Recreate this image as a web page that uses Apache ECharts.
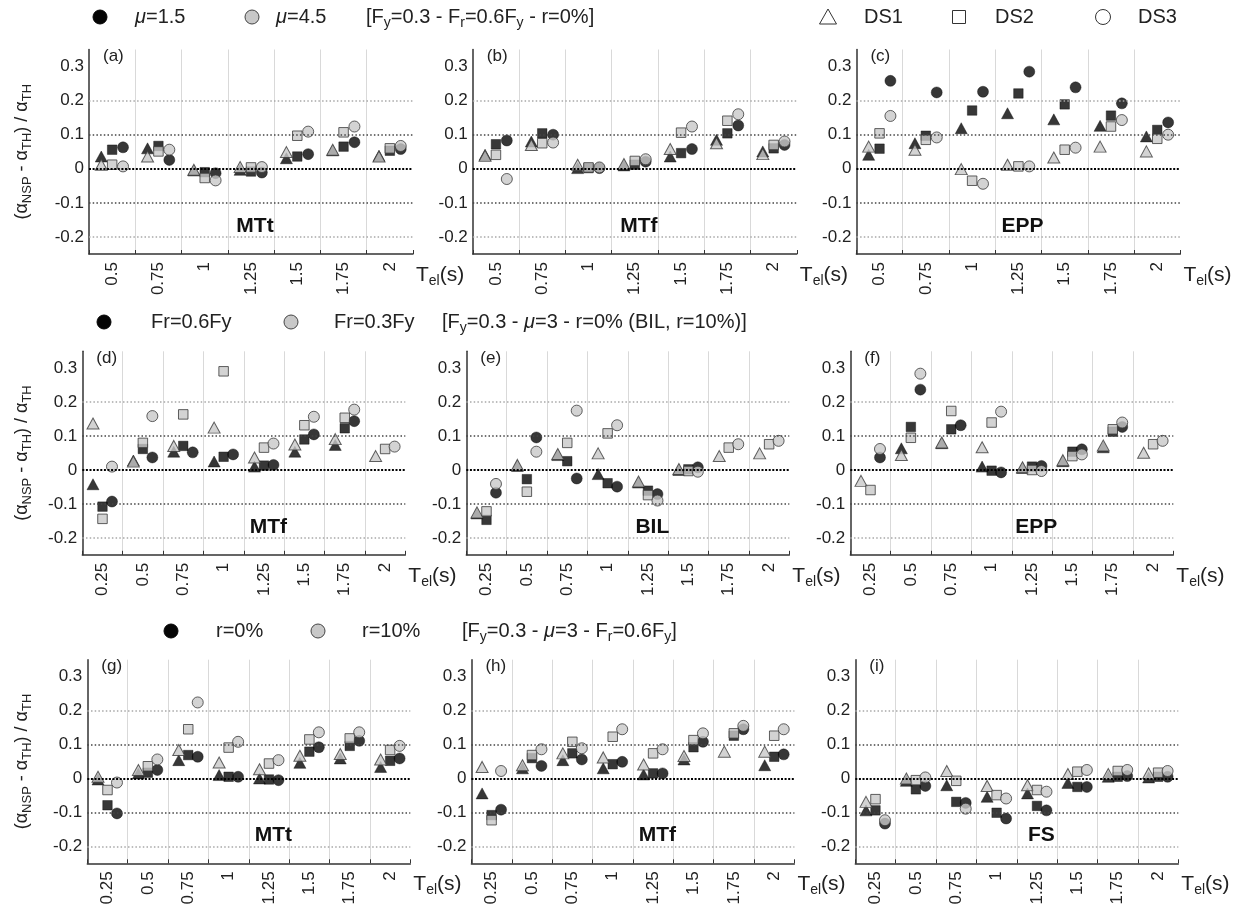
<!DOCTYPE html>
<html><head><meta charset="utf-8">
<script src="https://cdn.jsdelivr.net/npm/echarts@6/dist/echarts.min.js"></script>
<style>html,body{margin:0;padding:0;background:#fff}#c{width:1242px;height:909px}</style>
</head><body><div id="c"></div>
<script>
// ---------- categories / ticks ----------
const catsTop = ['0.5','0.75','1','1.25','1.5','1.75','2'];
const catsLow = ['0.25','0.5','0.75','1','1.25','1.5','1.75','2'];
const yTickLabels = [-0.2,-0.1,0,0.1,0.2,0.3];
const hGridValues = [-0.2,-0.1,0,0.1,0.2];
const panelLabels = ['(a)','(b)','(c)','(d)','(e)','(f)','(g)','(h)','(i)'];
const methodLabels = ['MTt','MTf','EPP','MTf','BIL','EPP','MTt','MTf','FS'];

// ---------- data: each array = [DS1, DS2, DS3] rows, one value per T_el ----------
// row 1: black = mu 1.5, gray = mu 4.5
const aBlack = [[0.036,0.060,-0.005,-0.003,0.031,0.054,0.038],
                [0.056,0.067,-0.010,-0.008,0.036,0.065,0.053],
                [0.063,0.026,-0.013,-0.011,0.043,0.078,0.058]];
const aGray  = [[0.012,0.036,-0.003,0.005,0.049,0.056,0.036],
                [0.012,0.051,-0.027,0.004,0.097,0.107,0.060],
                [0.007,0.056,-0.034,0.005,0.109,0.124,0.067]];
const bBlack = [[0.041,0.080,0.002,0.010,0.036,0.085,0.051],
                [0.072,0.104,0.002,0.012,0.046,0.104,0.060],
                [0.083,0.100,0.002,0.021,0.058,0.127,0.070]];
const bGray  = [[0.038,0.070,0.012,0.014,0.058,0.075,0.043],
                [0.041,0.075,0.004,0.023,0.106,0.141,0.070],
                [-0.030,0.077,0.004,0.028,0.124,0.160,0.080]];
const cBlack = [[0.041,0.075,0.119,0.163,0.145,0.126,0.095],
                [0.059,0.097,0.171,0.221,0.189,0.156,0.114],
                [0.258,0.224,0.226,0.285,0.239,0.192,0.136]];
const cGray  = [[0.065,0.056,-0.001,0.012,0.033,0.065,0.051],
                [0.104,0.085,-0.035,0.007,0.056,0.124,0.088],
                [0.155,0.092,-0.044,0.007,0.062,0.143,0.100]];
// row 2: black = Fr=0.6Fy, gray = Fr=0.3Fy
const dBlack = [[-0.042,0.028,0.054,0.025,0.010,0.054,0.074,null],
                [-0.108,0.062,0.071,0.039,0.013,0.090,0.123,null],
                [-0.093,0.037,0.052,0.046,0.015,0.105,0.144,null]];
const dGray  = [[0.137,0.025,0.071,0.125,0.037,0.075,0.091,0.041],
                [-0.144,0.080,0.164,0.291,0.066,0.132,0.154,0.062],
                [0.010,0.159,null,null,0.078,0.157,0.178,0.069]];
const eBlack = [[-0.128,0.012,0.044,-0.012,-0.037,0.000,null,null],
                [-0.147,-0.027,0.026,-0.039,-0.061,0.002,null,null],
                [-0.067,0.096,-0.025,-0.049,-0.071,0.008,null,null]];
const eGray  = [[-0.125,0.015,0.047,0.049,-0.034,0.003,0.041,0.049],
                [-0.122,-0.064,0.080,0.108,-0.074,-0.003,0.066,0.076],
                [-0.041,0.054,0.175,0.132,-0.090,-0.005,0.076,0.086]];
const fBlack = [[null,0.064,0.079,0.010,0.006,0.026,0.067,null],
                [null,0.127,0.120,-0.002,0.010,0.054,0.113,null],
                [0.037,0.237,0.132,-0.007,0.012,0.061,0.127,null]];
const fGray  = [[-0.032,0.044,0.081,0.067,0.008,0.029,0.072,0.051],
                [-0.059,0.095,0.174,0.140,0.000,0.041,0.120,0.076],
                [0.062,0.284,null,0.172,-0.003,0.046,0.140,0.086]];
// row 3: black = r=0%, gray = r=10%
const gBlack = [[-0.003,0.015,0.054,0.010,0.000,0.046,0.059,0.034],
                [-0.079,0.017,0.069,0.005,-0.003,0.079,0.096,0.052],
                [-0.103,0.025,0.064,0.005,-0.005,0.092,0.111,0.059]];
const gGray  = [[0.005,0.025,0.084,0.047,0.027,0.067,0.072,0.056],
                [-0.034,0.036,0.145,0.091,0.044,0.115,0.118,0.084],
                [-0.012,0.056,0.224,0.108,0.054,0.136,0.136,0.096]];
const hBlack = [[-0.044,0.030,0.054,0.030,0.012,0.056,null,0.039],
                [-0.108,0.060,0.074,0.042,0.015,0.092,0.126,0.064],
                [-0.092,0.037,0.056,0.049,0.015,0.108,0.145,0.071]];
const hGray  = [[0.034,0.039,0.074,0.062,0.041,0.066,0.079,0.079],
                [-0.123,0.069,0.108,0.123,0.074,0.113,0.133,0.126],
                [0.022,0.086,0.089,0.145,0.086,0.133,0.155,0.145]];
const iBlack = [[-0.094,-0.007,-0.020,-0.054,-0.044,-0.013,0.005,0.003],
                [-0.094,-0.032,-0.069,-0.101,-0.081,-0.025,0.005,0.005],
                [-0.133,-0.022,-0.072,-0.118,-0.094,-0.025,0.007,0.005]];
const iGray  = [[-0.069,0.000,0.022,-0.022,-0.020,0.013,0.013,0.015],
                [-0.061,-0.005,-0.007,-0.049,-0.034,0.020,0.022,0.017],
                [-0.123,0.003,-0.089,-0.059,-0.039,0.025,0.025,0.022]];

const blackSets = [aBlack,bBlack,cBlack,dBlack,eBlack,fBlack,gBlack,hBlack,iBlack];
const graySets  = [aGray,bGray,cGray,dGray,eGray,fGray,gGray,hGray,iGray];

// ---------- layout ----------
const FF = "'Liberation Sans', Arial, Helvetica, sans-serif";
const rows = [
  {top:49.5, h:204.5, lefts:[89,472.8,856.4], w:324, cats:catsTop, methodX:166},
  {top:351.3, h:203.5, lefts:[82.3,466.3,850.3], w:323, cats:catsLow, methodX:186},
  {top:659.7, h:203.6, lefts:[87.3,471.4,855.3], w:323, cats:catsLow, methodX:186}
];
const symbols = ['triangle','rect','circle'];
const symSizes = [[12,11],9.5,11];
function hStyle(v){
  if (Math.abs(v) < 1e-9) return {color:'#000', width:2, type:[2,1.6]};
  if (Math.abs(Math.abs(v)-0.1) < 1e-9) return {color:'#444', width:1.5, type:[1.5,2.2]};
  return {color:'#a8a8a8', width:1.5, type:[1.5,2.2]};
}

const grid=[], xAxis=[], yAxis=[], series=[], graphic=[];
for (let p=0;p<9;p++){
  const r = Math.floor(p/3), c = p%3, R = rows[r];
  const left = R.lefts[c];
  grid.push({left:left, top:R.top, width:R.w, height:R.h});
  xAxis.push({
    type:'category', gridIndex:p, data:R.cats, boundaryGap:true,
    axisLine:{onZero:false, lineStyle:{color:'#333', width:1.5}},
    axisTick:{show:true, inside:true, length:4, lineStyle:{color:'#333'}},
    axisLabel:{rotate:90, fontSize:17, color:'#222', margin:8, fontFamily:FF},
    splitLine:{show:true, showMaxLine:false, showMinLine:false, lineStyle:{color:'#d9d9d9', width:1}},
    name:'{t|T}{s|el}{t|(s)}', nameLocation:'end', nameGap:3,
    nameTextStyle:{verticalAlign:'top', padding:[8,0,0,0], rich:{
      t:{fontSize:21, fontFamily:FF, color:'#222', lineHeight:26},
      s:{fontSize:14, fontFamily:FF, color:'#222', lineHeight:14, verticalAlign:'bottom'}}}
  });
  yAxis.push({
    type:'value', gridIndex:p, min:-0.25, max:0.35, interval:0.05,
    axisLine:{show:true, onZero:false, lineStyle:{color:'#333', width:1.5}},
    axisTick:{show:false}, splitLine:{show:false},
    axisLabel:{fontSize:17, color:'#222', margin:5, fontFamily:FF,
      formatter:function(v){
        const hit = yTickLabels.find(t => Math.abs(t-v) < 1e-6);
        return hit === undefined ? '' : String(Math.round(hit*10)/10);
      }},
    name: c===0 ? '{p|(α}{s|NSP}{p| - α}{s|TH}{p|) / α}{s|TH}' : '',
    nameLocation:'middle', nameGap: left - 22 - 12,
    nameTextStyle:{rich:{
      p:{fontSize:18, fontFamily:FF, color:'#222', lineHeight:24},
      s:{fontSize:13, fontFamily:FF, color:'#222', lineHeight:13, verticalAlign:'bottom'}}}
  });
  // horizontal reference lines
  series.push({type:'scatter', xAxisIndex:p, yAxisIndex:p, data:[], z:1, silent:true,
    markLine:{silent:true, symbol:['none','none'], animation:false, label:{show:false},
      data: hGridValues.map(v => ({yAxis:v, lineStyle:hStyle(v)}))}});
  const catW = R.w / R.cats.length;
  const off = catW * 0.235;
  [['b',blackSets[p]],['g',graySets[p]]].forEach(([kind,set])=>{
    for (let d=0; d<3; d++){
      series.push({
        type:'scatter', xAxisIndex:p, yAxisIndex:p, silent:true, animation:false,
        z: kind==='b'?3:4,
        data: set[d].map(v => v===null ? '-' : v),
        symbol: symbols[d], symbolSize: symSizes[d], symbolOffset:[off*(d-1),0],
        itemStyle: kind==='b'
          ? {color:'#050505', borderColor:'#050505', borderWidth:0.5}
          : {color:'#c8c8c8', borderColor:'#3a3a3a', borderWidth:1}
      });
    }
  });
  graphic.push({type:'text', x:left+14, y:R.top+7, silent:true, z:100,
    style:{text:panelLabels[p], fontSize:17, fontFamily:FF, fill:'#222', verticalAlign:'middle'}});
  graphic.push({type:'text', x:left+R.methodX, y:R.top+R.h-28, silent:true, z:100,
    style:{text:methodLabels[p], fontSize:21, fontWeight:'bold', fontFamily:FF, fill:'#111', align:'center', verticalAlign:'middle'}});
}

// ---------- legends ----------
const richL = {
  n:{fontSize:20, fontFamily:FF, fill:'#222', lineHeight:26},
  i:{fontSize:20, fontFamily:FF, fill:'#222', fontStyle:'italic', lineHeight:26},
  s:{fontSize:14, fontFamily:FF, fill:'#222', lineHeight:14, verticalAlign:'bottom'}
};
function ltext(x,y,t){ graphic.push({type:'text', x:x, y:y, silent:true, z:100,
  style:{text:t, rich:richL, fontSize:20, fontFamily:FF, fill:'#222', verticalAlign:'middle'}}); }
function lcircle(x,y,fill,stroke,rad){ graphic.push({type:'circle', silent:true, z:100, shape:{cx:x,cy:y,r:rad||7}, style:{fill:fill, stroke:stroke, lineWidth:1}}); }
function ltri(x,y){ graphic.push({type:'polygon', silent:true, z:100, shape:{points:[[x,y-8],[x+8.5,y+7],[x-8.5,y+7]]}, style:{fill:'#fff', stroke:'#333', lineWidth:1}}); }
function lrect(x,y){ graphic.push({type:'rect', silent:true, z:100, shape:{x:x-6.5,y:y-6.5,width:13,height:13}, style:{fill:'#fff', stroke:'#333', lineWidth:1}}); }

const legendRows = [
  {y:17, items:[[100,'b','{i|μ}{n|=1.5}',135],[252,'g','{i|μ}{n|=4.5}',276]],
   note:'{n|[F}{s|y}{n|=0.3 - F}{s|r}{n|=0.6F}{s|y}{n| - r=0%]}', noteX:366},
  {y:322, items:[[104,'b','{n|Fr=0.6Fy}',151],[291,'g','{n|Fr=0.3Fy}',334]],
   note:'{n|[F}{s|y}{n|=0.3 - }{i|μ}{n|=3 - r=0% (BIL, r=10%)]}', noteX:442},
  {y:631, items:[[171,'b','{n|r=0%}',216],[318,'g','{n|r=10%}',362]],
   note:'{n|[F}{s|y}{n|=0.3 - }{i|μ}{n|=3 - F}{s|r}{n|=0.6F}{s|y}{n|]}', noteX:462}
];
legendRows.forEach(L=>{
  L.items.forEach(([cx,k,t,tx])=>{
    if (k==='b') lcircle(cx,L.y,'#050505','#050505'); else lcircle(cx,L.y,'#c8c8c8','#444');
    ltext(tx,L.y,t);
  });
  ltext(L.noteX,L.y,L.note);
});
ltri(828,17); ltext(864,17,'{n|DS1}');
lrect(959,17); ltext(995,17,'{n|DS2}');
lcircle(1103,17,'#fff','#333',7.5); ltext(1138,17,'{n|DS3}');

const chart = echarts.init(document.getElementById('c'), null, {renderer:'canvas'});
chart.setOption({animation:false, backgroundColor:'#fff', grid, xAxis, yAxis, series, graphic});
</script></body></html>
